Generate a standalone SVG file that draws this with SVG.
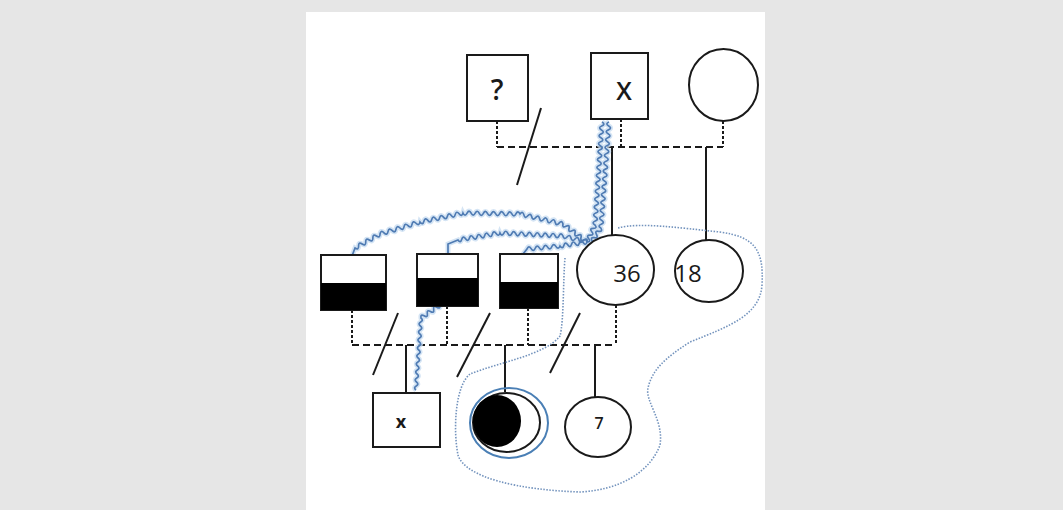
<svg xmlns="http://www.w3.org/2000/svg" width="1063" height="510" viewBox="0 0 1063 510">
<style>
.bg{fill:#e6e6e6}
.panel{fill:#ffffff}
.shape{fill:#ffffff;stroke:#1a1a1a;stroke-width:2}
.fill{fill:#000000;stroke:none}
.solid{stroke:#1a1a1a;stroke-width:2;fill:none}
.dash{stroke:#1a1a1a;stroke-width:2;fill:none;stroke-dasharray:7,4}
.drop{stroke:#1a1a1a;stroke-width:2;fill:none;stroke-dasharray:3,2}
.wave{stroke:#4f7bb3;stroke-width:1.7;fill:none}
.halo{stroke:#c9ddf1;stroke-width:5;fill:none;opacity:0.8}
.dots{stroke:#7393bd;stroke-width:1.6;fill:none;stroke-dasharray:1.5,1.5}
.lbl{font-family:"Open Sans","Liberation Sans",Arial,sans-serif;fill:#1a1a1a;text-anchor:middle}
</style>
<defs>
<path id="w1" d="M602,122 q3.87,2.25 -0.27,3.96 t-0.27,3.96 t-0.27,3.96 t-0.27,3.96 t-0.27,3.96 t-0.27,3.96 t-0.27,3.96 t-0.27,3.96 t-0.27,3.96 t-0.27,3.96 t-0.27,3.96 t-0.27,3.96 t-0.27,3.96 t-0.27,3.96 t-0.27,3.96 t-0.27,3.96 t-0.27,3.96 t-0.27,3.96 t-0.27,3.96 t-0.27,3.96 t-0.27,3.96 t-0.27,3.96 t-0.27,3.96 t-0.27,3.96 t-0.27,3.96 t-0.27,3.96 q2.82,3.4 -1.6,3.4 t-1.6,3.4 t-1.6,3.4 t-1.6,3.4 t-1.6,3.4"/>
<path id="w2" d="M609,122 q-4.15,1.66 -0.3,3.93 t-0.3,3.93 t-0.3,3.93 t-0.3,3.93 t-0.3,3.93 t-0.3,3.93 t-0.3,3.93 t-0.3,3.93 t-0.3,3.93 t-0.3,3.93 t-0.3,3.93 t-0.3,3.93 t-0.3,3.93 t-0.3,3.93 t-0.3,3.93 t-0.3,3.93 t-0.3,3.93 t-0.3,3.93 t-0.3,3.93 t-0.3,3.93 t-0.3,3.93 t-0.3,3.93 t-0.3,3.93 t-0.3,3.93 t-0.3,3.93 t-0.3,3.93 t-0.3,3.93 q2.2,3.86 -2.2,3.2 t-2.2,3.2 t-2.2,3.2 t-2.2,3.2 t-2.2,3.2"/>
<path id="w3" d="M587,242 q0.9,-4.33 -3,-2.25 t-3,-2.25 t-3,-2.25 t-3,-2.25 t-3,-2.25 t-3,-2.25 t-3,-2.25 t-3,-2.25 q-1.04,-4.35 -3.91,-0.91 t-3.91,-0.91 t-3.91,-0.91 t-3.91,-0.91 t-3.91,-0.91 t-3.91,-0.91 t-3.91,-0.91 t-3.91,-0.91 t-3.91,-0.91 t-3.91,-0.91 t-3.91,-0.91 q-2.04,-4.04 -4.07,-0.07 t-4.07,-0.07 t-4.07,-0.07 t-4.07,-0.07 t-4.07,-0.07 t-4.07,-0.07 t-4.07,-0.07 t-4.07,-0.07 t-4.07,-0.07 t-4.07,-0.07 t-4.07,-0.07 t-4.07,-0.07 t-4.07,-0.07 t-4.07,-0.07 q-1.13,4.33 -3.91,0.82 t-3.91,0.82 t-3.91,0.82 t-3.91,0.82 t-3.91,0.82 t-3.91,0.82 t-3.91,0.82 t-3.91,0.82 t-3.91,0.82 t-3.91,0.82 t-3.91,0.82 q-0.85,4.43 -4,1.2 t-4,1.2 t-4,1.2 t-4,1.2 t-4,1.2 t-4,1.2 t-4,1.2 t-4,1.2 t-4,1.2 t-4,1.2 q0.16,4.49 -3.57,2 t-3.57,2 t-3.57,2 t-3.57,2 t-3.57,2 t-3.57,2 t-3.57,2 L352,256"/>
<path id="w4" d="M587,242 q-1.03,-4.38 -4,-1 t-4,-1 t-4,-1 t-4,-1 t-4,-1 t-4,-1 q-1.97,-4.1 -3.94,-0.19 t-3.94,-0.19 t-3.94,-0.19 t-3.94,-0.19 t-3.94,-0.19 t-3.94,-0.19 t-3.94,-0.19 t-3.94,-0.19 t-3.94,-0.19 t-3.94,-0.19 t-3.94,-0.19 t-3.94,-0.19 t-3.94,-0.19 t-3.94,-0.19 t-3.94,-0.19 t-3.94,-0.19 q-1.25,4.26 -3.82,0.64 t-3.82,0.64 t-3.82,0.64 t-3.82,0.64 t-3.82,0.64 t-3.82,0.64 t-3.82,0.64 t-3.82,0.64 t-3.82,0.64 t-3.82,0.64 t-3.82,0.64 L448,244 L448,254"/>
<path id="w5" d="M587,242 q-1.35,4.25 -3.86,0.57 t-3.86,0.57 t-3.86,0.57 t-3.86,0.57 t-3.86,0.57 t-3.86,0.57 t-3.86,0.57 q-1.7,4.17 -4.125,0.375 t-4.125,0.375 t-4.125,0.375 t-4.125,0.375 t-4.125,0.375 t-4.125,0.375 t-4.125,0.375 t-4.125,0.375 L523,254"/>
<path id="w6" d="M440,305 q0.68,4.38 -3.17,2.17 t-3.17,2.17 t-3.17,2.17 t-3.17,2.17 t-3.17,2.17 t-3.17,2.17 q2.86,2.2 -0.28,4 t-0.28,4 t-0.28,4 t-0.28,4 t-0.28,4 t-0.28,4 t-0.28,4 t-0.28,4 t-0.28,4 t-0.28,4 t-0.28,4 t-0.28,4 t-0.28,4 t-0.28,4 t-0.28,4 t-0.28,4 t-0.28,4 t-0.28,4"/>
</defs>
<rect class="bg" x="0" y="0" width="1063" height="510"/>
<rect class="panel" x="306" y="12" width="459" height="498"/>

<g id="connectors">
  <path class="drop" d="M497,121 V147"/>
  <path class="drop" d="M621,119 V147"/>
  <path class="drop" d="M723,121 V147"/>
  <path class="dash" d="M497,147 H723"/>
  <path class="solid" d="M541,108 L517,185"/>
  <path class="solid" d="M612,147 V235"/>
  <path class="solid" d="M706,147 V245"/>
  <path class="drop" d="M352,310 V345"/>
  <path class="drop" d="M447,306 V345"/>
  <path class="drop" d="M528,308 V345"/>
  <path class="drop" d="M616,305 V345"/>
  <path class="dash" d="M352,345 H616"/>
  <path class="solid" d="M398,313 L373,375"/>
  <path class="solid" d="M490,313 L457,377"/>
  <path class="solid" d="M580,313 L550,373"/>
  <path class="solid" d="M406,345 V393"/>
  <path class="solid" d="M505,345 V392"/>
  <path class="solid" d="M595,345 V397"/>
  <use href="#w1" class="halo"/><use href="#w2" class="halo"/><use href="#w3" class="halo"/>
  <use href="#w4" class="halo"/><use href="#w5" class="halo"/><use href="#w6" class="halo"/>
  <use href="#w1" class="wave"/><use href="#w2" class="wave"/><use href="#w3" class="wave"/>
  <use href="#w4" class="wave"/><use href="#w5" class="wave"/><use href="#w6" class="wave"/>
  <path class="dots" d="M565,258 C563,280 564,320 560,336 C545,355 500,362 470,374 C455,386 453,430 458,455 C465,478 520,490 580,492 C620,490 650,472 660,445 C664,420 645,402 648,388 C652,370 665,358 690,342 C730,326 760,315 762,285 C764,250 755,237 720,232 C680,228 640,222 618,228"/>
</g>

<g id="node-q">
  <rect class="shape" x="467" y="55" width="61" height="66"/>
  <text class="lbl" x="497" y="100" font-size="28" font-weight="600">?</text>
</g>
<g id="node-X">
  <rect class="shape" x="591" y="53" width="57" height="66"/>
  <text class="lbl" x="624" y="100" font-size="25" font-weight="600">X</text>
</g>
<g id="node-circle-top">
  <ellipse class="shape" cx="723.5" cy="85" rx="34.5" ry="36"/>
</g>
<g id="node-box1">
  <rect class="shape" x="321" y="255" width="65" height="55"/>
  <rect class="fill" x="321" y="283" width="65" height="27"/>
</g>
<g id="node-box2">
  <rect class="shape" x="417" y="254" width="61" height="52"/>
  <rect class="fill" x="417" y="278" width="61" height="28"/>
</g>
<g id="node-box3">
  <rect class="shape" x="500" y="254" width="58" height="54"/>
  <rect class="fill" x="500" y="282" width="58" height="26"/>
</g>
<g id="node-36">
  <ellipse class="shape" cx="615.5" cy="270" rx="38.5" ry="35"/>
  <text class="lbl" x="627" y="282" font-size="24">36</text>
</g>
<g id="node-18">
  <ellipse class="shape" cx="709" cy="271" rx="34" ry="31" fill="none"/>
  <text class="lbl" x="688" y="282" font-size="24">18</text>
</g>
<g id="node-x">
  <rect class="shape" x="373" y="393" width="67" height="54"/>
  <text class="lbl" x="401" y="428" font-size="18" font-weight="bold">x</text>
</g>
<g id="node-proband">
  <ellipse cx="509" cy="423" rx="39" ry="35" fill="none" stroke="#4a7fb5" stroke-width="2"/>
  <ellipse class="shape" cx="506.5" cy="422.5" rx="33.5" ry="29.5"/>
  <ellipse class="fill" cx="497" cy="421" rx="24" ry="26"/>
</g>
<g id="node-7">
  <ellipse class="shape" cx="598" cy="427" rx="33" ry="30"/>
  <text class="lbl" x="599" y="429" font-size="16" font-weight="600">7</text>
</g>
</svg>
